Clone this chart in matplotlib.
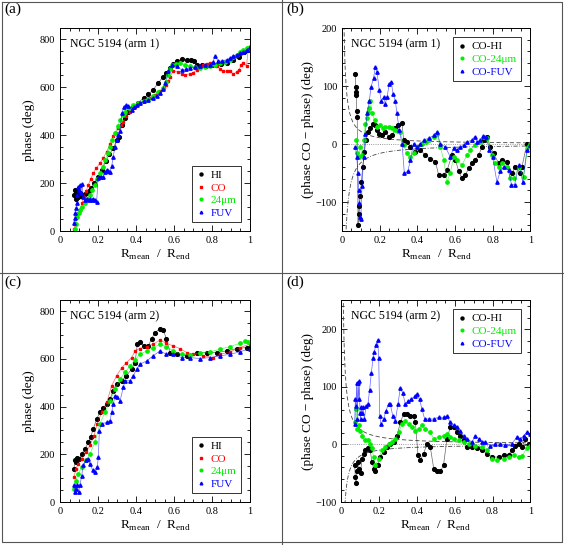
import numpy as np
import matplotlib.pyplot as plt
from matplotlib.lines import Line2D
from matplotlib.ticker import MultipleLocator

plt.rcParams['font.family'] = ['Liberation Serif', 'DejaVu Serif']
plt.rcParams['mathtext.fontset'] = 'custom'
plt.rcParams['mathtext.rm'] = 'Liberation Serif'

# ---- arm 1 : phase vs R ----
a1_hi_r = [0.074, 0.078, 0.084, 0.088, 0.091, 0.095, 0.100, 0.105, 0.112, 0.120, 0.130, 0.140, 0.150,
           0.165, 0.180, 0.200, 0.220, 0.240, 0.260, 0.280, 0.300, 0.310, 0.325, 0.340, 0.360, 0.386,
           0.410, 0.440, 0.465, 0.490, 0.515, 0.544, 0.560, 0.580, 0.597, 0.614, 0.640, 0.667, 0.690,
           0.705, 0.720, 0.745, 0.770, 0.800, 0.820, 0.850, 0.877, 0.910, 0.940, 0.970, 0.990]
a1_hi = [150, 170, 132, 165, 168, 140, 150, 157, 145, 150, 155, 160, 165,
         180, 200, 225, 255, 290, 320, 345, 380, 391, 442, 470, 495, 519,
         535, 554, 570, 588, 615, 644, 660, 679, 695, 707, 716, 714, 712,
         707, 693, 690, 689, 690, 693, 697, 700, 712, 725, 745, 755]

a1_co_r = [0.074, 0.080, 0.088, 0.096, 0.105, 0.115, 0.126, 0.138, 0.149, 0.162, 0.175, 0.190, 0.210,
           0.228, 0.246, 0.263, 0.280, 0.294, 0.307, 0.320, 0.333, 0.350, 0.368, 0.395, 0.420, 0.447,
           0.474, 0.500, 0.526, 0.545, 0.560, 0.570, 0.580, 0.596, 0.620, 0.640, 0.660, 0.684, 0.700,
           0.720, 0.737, 0.754, 0.772, 0.790, 0.808, 0.825, 0.843, 0.860, 0.878, 0.895, 0.912, 0.930,
           0.940, 0.955, 0.965, 0.982, 0.990, 1.000]
a1_co = [7, 30, 60, 75, 88, 115, 143, 168, 192, 218, 240, 262, 282,
         305, 331, 362, 394, 410, 428, 442, 456, 478, 498, 515, 533, 545,
         554, 568, 582, 595, 609, 625, 644, 669, 662, 655, 652, 655, 660,
         672, 683, 693, 697, 700, 695, 686, 676, 665, 667, 665, 655, 662,
         672, 690, 700, 689, 755, 755]

a1_24_r = [0.079, 0.085, 0.091, 0.098, 0.105, 0.118, 0.130, 0.144, 0.158, 0.171, 0.184, 0.197, 0.210,
           0.224, 0.237, 0.250, 0.263, 0.276, 0.290, 0.303, 0.316, 0.329, 0.342, 0.364, 0.386, 0.413,
           0.440, 0.465, 0.490, 0.517, 0.544, 0.557, 0.570, 0.580, 0.588, 0.610, 0.630, 0.657, 0.684,
           0.710, 0.737, 0.763, 0.790, 0.816, 0.842, 0.868, 0.895, 0.912, 0.930, 0.947, 0.965, 0.982,
           1.000]
a1_24 = [7, 30, 60, 75, 88, 100, 115, 132, 150, 170, 192, 215, 240,
         268, 296, 324, 352, 380, 408, 436, 463, 482, 498, 512, 526, 534,
         540, 550, 561, 578, 595, 620, 651, 675, 693, 697, 700, 693, 686,
         682, 679, 684, 689, 694, 700, 706, 714, 724, 735, 745, 755, 762,
         769]

a1_fuv_r = [0.074, 0.078, 0.081, 0.085, 0.088, 0.092, 0.096, 0.100, 0.105, 0.110, 0.115, 0.123, 0.132,
            0.140, 0.150, 0.160, 0.167, 0.175, 0.185, 0.193, 0.200, 0.214, 0.228, 0.237, 0.246, 0.255,
            0.263, 0.272, 0.280, 0.290, 0.298, 0.307, 0.316, 0.325, 0.337, 0.348, 0.360, 0.377, 0.390,
            0.404, 0.420, 0.440, 0.465, 0.490, 0.508, 0.526, 0.540, 0.553, 0.570, 0.588, 0.614, 0.640,
            0.662, 0.684, 0.710, 0.737, 0.763, 0.790, 0.805, 0.816, 0.833, 0.855, 0.877, 0.895, 0.912,
            0.930, 0.947, 0.965, 0.982, 1.000]
a1_fuv = [35, 55, 74, 95, 115, 150, 185, 170, 192, 160, 195, 140, 129,
          135, 129, 132, 129, 135, 128, 122, 220, 225, 227, 245, 255, 250,
          248, 270, 310, 352, 380, 400, 415, 491, 519, 525, 522, 505, 515,
          526, 535, 540, 546, 554, 563, 575, 590, 616, 665, 693, 686, 672,
          675, 679, 682, 686, 690, 693, 705, 730, 707, 710, 714, 720, 728,
          735, 742, 748, 755, 765]

# ---- arm 1 : CO minus phase ----
b1_hi_r = [0.071, 0.073, 0.074, 0.076, 0.078, 0.081, 0.085, 0.088, 0.092, 0.097, 0.103, 0.110, 0.119,
           0.127, 0.138, 0.150, 0.163, 0.177, 0.186, 0.195, 0.212, 0.230, 0.248, 0.265, 0.283, 0.300,
           0.319, 0.327, 0.345, 0.363, 0.390, 0.416, 0.442, 0.469, 0.496, 0.513, 0.540, 0.558, 0.584,
           0.602, 0.620, 0.637, 0.655, 0.673, 0.690, 0.708, 0.726, 0.743, 0.756, 0.770, 0.788, 0.805,
           0.832, 0.850, 0.876, 0.903, 0.920, 0.947, 0.956, 0.982, 1.000]
b1_hi = [121, 99, 84, 90, 58, 47, -139, -120, -107, -90, -65, -39, -13,
         7, 21, 27, 35, 33, 25, 18, 15, 21, 13, 15, 27, 33,
         37, 7, 4, -5, -13, -10, -19, -25, -30, -53, -53, -45, -19,
         -27, -47, -59, -53, -42, -33, -27, -19, -5, 7, 13, -5, -16,
         -33, -27, -30, -50, -39, -50, -39, 1, 0]

b1_24_r = [0.074, 0.081, 0.088, 0.097, 0.106, 0.115, 0.124, 0.133, 0.138, 0.145, 0.150, 0.160, 0.173,
           0.186, 0.204, 0.217, 0.230, 0.248, 0.265, 0.283, 0.296, 0.310, 0.327, 0.345, 0.363, 0.380,
           0.398, 0.425, 0.445, 0.460, 0.487, 0.504, 0.522, 0.540, 0.558, 0.575, 0.593, 0.610, 0.637,
           0.664, 0.681, 0.708, 0.735, 0.752, 0.770, 0.796, 0.814, 0.832, 0.850, 0.876, 0.894, 0.912,
           0.938, 0.965, 0.986, 1.000]
b1_24 = [7, -16, -22, -5, -19, 7, 35, 45, 55, 62, 75, 53, 41,
         30, 33, 28, 30, 30, 27, 24, 22, 21, -2, -16, -22, -16,
         -5, 1, 4, 7, 13, 18, -5, -27, -65, -50, -22, -27, -36,
         -19, -10, -2, 4, 13, 10, -19, -33, -39, -33, -39, -59, -59,
         -39, -56, -5, 1]

b1_fuv_r = [0.071, 0.078, 0.085, 0.088, 0.092, 0.096, 0.100, 0.106, 0.115, 0.124, 0.133, 0.145, 0.154,
            0.168, 0.177, 0.186, 0.198, 0.209, 0.221, 0.230, 0.239, 0.251, 0.262, 0.271, 0.283, 0.292,
            0.304, 0.319, 0.331, 0.350, 0.363, 0.380, 0.398, 0.416, 0.434, 0.460, 0.487, 0.504, 0.522,
            0.549, 0.575, 0.593, 0.610, 0.628, 0.646, 0.664, 0.690, 0.704, 0.717, 0.735, 0.749, 0.765,
            0.782, 0.800, 0.823, 0.840, 0.858, 0.885, 0.900, 0.917, 0.938, 0.960, 0.982, 1.000]
b1_fuv = [-5, -22, -50, -79, -102, -125, -130, -73, -22, 18, 53, 75, 98,
          115, 133, 124, 93, 75, 81, 70, 81, 104, 107, 87, 75, 53,
          24, 1, -50, -47, -27, 1, -5, 1, 7, 10, 15, 21, 1,
          -5, -22, -7, -10, -5, -2, 4, 7, 13, 4, 7, 14, 13,
          -10, -22, -66, -47, -39, -45, -70, -70, -36, -65, -10, -2]

# ---- arm 2 : phase vs R ----
c2_hi_r = [0.074, 0.077, 0.084, 0.091, 0.102, 0.114, 0.132, 0.149, 0.161, 0.175, 0.193, 0.210, 0.228,
           0.246, 0.263, 0.280, 0.298, 0.325, 0.350, 0.377, 0.395, 0.407, 0.420, 0.440, 0.465, 0.482,
           0.500, 0.526, 0.544, 0.560, 0.580, 0.614, 0.667, 0.720, 0.772, 0.825, 0.877, 0.930, 0.982,
           1.000]
c2_hi = [139, 174, 167, 184, 181, 202, 223, 250, 271, 306, 348, 376, 392,
         410, 431, 466, 494, 508, 529, 557, 584, 661, 671, 654, 654, 684,
         710, 726, 721, 682, 626, 619, 612, 623, 626, 626, 633, 643, 647,
         647]

c2_co_r = [0.074, 0.084, 0.096, 0.114, 0.137, 0.158, 0.179, 0.196, 0.219, 0.246, 0.272, 0.298, 0.325,
           0.350, 0.377, 0.395, 0.420, 0.456, 0.490, 0.526, 0.560, 0.596, 0.630, 0.667, 0.702, 0.754,
           0.807, 0.842, 0.895, 0.947, 1.000]
c2_co = [104, 139, 160, 181, 209, 237, 278, 327, 376, 417, 487, 529, 563,
         584, 605, 633, 643, 651, 661, 678, 665, 654, 643, 626, 619, 612,
         605, 619, 629, 647, 661]

c2_24_r = [0.074, 0.084, 0.096, 0.114, 0.137, 0.158, 0.184, 0.210, 0.237, 0.263, 0.290, 0.316, 0.342,
           0.368, 0.395, 0.420, 0.456, 0.490, 0.526, 0.560, 0.596, 0.640, 0.684, 0.737, 0.790, 0.842,
           0.895, 0.947, 0.974, 0.991]
c2_24 = [56, 90, 118, 146, 174, 202, 250, 327, 376, 424, 473, 515, 543,
         570, 595, 619, 633, 647, 661, 651, 633, 619, 615, 626, 629, 640,
         651, 665, 675, 671]

c2_fuv_r = [0.074, 0.079, 0.084, 0.091, 0.098, 0.105, 0.114, 0.123, 0.137, 0.146, 0.158, 0.172, 0.184,
            0.196, 0.202, 0.207, 0.219, 0.246, 0.263, 0.272, 0.280, 0.290, 0.302, 0.316, 0.333, 0.342,
            0.368, 0.386, 0.404, 0.420, 0.456, 0.490, 0.526, 0.560, 0.596, 0.640, 0.684, 0.737, 0.790,
            0.842, 0.895, 0.947, 1.000]
c2_fuv = [72, 42, 56, 70, 42, 70, 111, 153, 174, 181, 160, 132, 125,
          146, 188, 299, 327, 334, 341, 376, 410, 445, 438, 424, 480, 508,
          508, 529, 557, 577, 591, 612, 633, 619, 619, 605, 605, 601, 605,
          612, 619, 629, 643]

# ---- arm 2 : CO minus phase ----
d2_hi_r = [0.071, 0.074, 0.078, 0.083, 0.088, 0.095, 0.102, 0.109, 0.118, 0.127, 0.141, 0.153, 0.162,
           0.171, 0.180, 0.194, 0.206, 0.224, 0.242, 0.259, 0.277, 0.295, 0.312, 0.330, 0.347, 0.365,
           0.383, 0.392, 0.406, 0.418, 0.436, 0.453, 0.471, 0.489, 0.506, 0.524, 0.541, 0.559, 0.577,
           0.594, 0.612, 0.630, 0.647, 0.665, 0.691, 0.718, 0.744, 0.771, 0.797, 0.832, 0.859, 0.885,
           0.903, 0.920, 0.938, 0.956, 0.974, 0.991]
d2_hi = [-36, -56, -67, -47, -30, -42, -50, -25, -16, -10, -7, -10, -30,
         -42, -46, -36, -22, -13, -5, 1, 4, 15, 38, 53, 53, 50,
         50, 38, -19, -27, -16, 1, -5, -42, -47, -47, -36, 10, 30,
         30, 21, 15, 7, -5, -5, -7, -10, -16, -22, -22, -19, -18,
         -10, -2, 1, -5, 10, 1]

d2_24_r = [0.071, 0.078, 0.083, 0.092, 0.100, 0.109, 0.123, 0.141, 0.153, 0.162, 0.171, 0.180, 0.198,
           0.215, 0.233, 0.250, 0.268, 0.286, 0.303, 0.321, 0.339, 0.356, 0.374, 0.392, 0.409, 0.427,
           0.444, 0.471, 0.489, 0.515, 0.541, 0.559, 0.577, 0.594, 0.621, 0.647, 0.674, 0.709, 0.744,
           0.771, 0.797, 0.824, 0.859, 0.885, 0.912, 0.938, 0.956, 0.982, 1.000]
d2_24 = [38, 61, 27, 33, 24, 15, 7, 7, 1, -7, -22, -36, -25,
         -10, -5, 1, 4, 10, 21, 35, 41, 35, 30, 24, 27, 33,
         27, 21, 10, 13, 15, 18, 13, 10, 7, 4, 1, -2, -5,
         -10, -25, -27, -25, -22, -19, -22, -20, -7, -2]

d2_fuv_r = [0.071, 0.074, 0.078, 0.081, 0.085, 0.088, 0.092, 0.095, 0.099, 0.102, 0.106, 0.109, 0.116,
            0.122, 0.131, 0.141, 0.150, 0.159, 0.168, 0.175, 0.183, 0.192, 0.198, 0.203, 0.210, 0.224,
            0.236, 0.250, 0.259, 0.272, 0.286, 0.300, 0.312, 0.324, 0.339, 0.353, 0.370, 0.388, 0.400,
            0.414, 0.427, 0.441, 0.462, 0.489, 0.515, 0.541, 0.559, 0.577, 0.594, 0.612, 0.630, 0.647,
            0.665, 0.691, 0.709, 0.727, 0.744, 0.762, 0.788, 0.815, 0.841, 0.868, 0.903, 0.929, 0.947,
            0.965, 0.982, 1.000]
d2_fuv = [35, 78, 67, 107, 44, 107, 78, 110, 55, 44, 64, 55, 64,
          44, 67, 70, 95, 124, 150, 161, 173, 181, 150, 50, 35, 44,
          58, 70, 70, 50, 41, 70, 98, 90, 70, 75, 78, 84, 87,
          78, 61, 44, 44, 44, 47, 47, 49, 38, 33, 30, 24, 15,
          10, 4, 15, 10, 4, 4, -2, 1, 1, -1, 1, 13, 10,
          15, 21, 18]

W, H = 564, 545
fig = plt.figure(figsize=(W / 100, H / 100), dpi=100)


def make_ax(x0, x1, y0, y1):
    return fig.add_axes([x0 / W, 1 - y1 / H, (x1 - x0) / W, (y1 - y0) / H])


def style(ax, ymin, ymax, ymaj, ymin_step):
    ax.set_xlim(0, 1)
    ax.set_ylim(ymin, ymax)
    ax.xaxis.set_minor_locator(MultipleLocator(0.05))
    ax.yaxis.set_major_locator(MultipleLocator(ymaj))
    ax.yaxis.set_minor_locator(MultipleLocator(ymin_step))
    ax.set_xticks([0, 0.2, 0.4, 0.6, 0.8, 1])
    ax.set_xticklabels(['0', '0.2', '0.4', '0.6', '0.8', '1'])
    ax.tick_params(which='both', direction='in', top=True, right=True, labelsize=7.5, width=0.6)
    ax.tick_params(which='major', length=4)
    ax.tick_params(which='minor', length=2)
    for s in ax.spines.values():
        s.set_linewidth(0.7)
    ax.set_xlabel(r'R$_{\rm mean}$  /  R$_{\rm end}$', fontsize=9.5, labelpad=2)


def series(ax, x, y, color, marker, ms, lab):
    ax.plot(x, y, '-', color=color, lw=0.5, alpha=0.6)
    ax.plot(x, y, linestyle='none', marker=marker, color=color, ms=ms, mec=color)
    return Line2D([], [], linestyle='none', marker=marker, color=color, ms=ms * 0.8, label=lab)


def guides(ax, cup, clo):
    rr = np.linspace(0.004, 1, 400)
    ax.plot(rr, cup / rr, '--', color='#444444', lw=0.6, dashes=(5, 3))
    ax.plot(rr, -clo / rr, '--', color='#444444', lw=0.6, dashes=(5, 2, 1, 2))
    ax.axhline(0, color='#777777', lw=0.6, ls=':')


def legend(ax, handles, loc):
    leg = ax.legend(handles=handles, loc=loc, fontsize=8, frameon=True, fancybox=False,
                    edgecolor='black', handlelength=0.8, handletextpad=0.5, labelspacing=0.25,
                    borderpad=0.4, borderaxespad=0.8, labelcolor='markerfacecolor')
    leg.get_frame().set_linewidth(0.7)


# (a)
ax = make_ax(60, 250, 28.3, 231)
h = [series(ax, a1_hi_r, a1_hi, 'black', 'o', 2.7, 'HI'),
     series(ax, a1_co_r, a1_co, 'red', 's', 2.0, 'CO'),
     series(ax, a1_24_r, a1_24, '#00ee00', 'o', 2.4, '24μm'),
     series(ax, a1_fuv_r, a1_fuv, 'blue', '^', 2.4, 'FUV')]
style(ax, 0, 845, 200, 50)
ax.set_ylabel('phase (deg)', fontsize=9.5, labelpad=3)
ax.text(0.05, 0.95, 'NGC 5194 (arm 1)', transform=ax.transAxes, va='top', fontsize=8.5)
legend(ax, h, 'lower right')

# (b)
ax = make_ax(342, 530.3, 28.3, 231)
guides(ax, 2.2, 3.2)
h = [series(ax, b1_hi_r, b1_hi, 'black', 'o', 2.7, 'CO-HI'),
     series(ax, b1_24_r, b1_24, '#00ee00', 'o', 2.4, 'CO-24μm'),
     series(ax, b1_fuv_r, b1_fuv, 'blue', '^', 2.4, 'CO-FUV')]
style(ax, -150, 200, 100, 20)
ax.set_ylabel('(phase CO − phase) (deg)', fontsize=9.5, labelpad=1)
ax.text(0.05, 0.95, 'NGC 5194 (arm 1)', transform=ax.transAxes, va='top', fontsize=8.5)
legend(ax, h, 'upper right')

# (c)
ax = make_ax(60, 250, 300.3, 502)
h = [series(ax, c2_hi_r, c2_hi, 'black', 'o', 2.7, 'HI'),
     series(ax, c2_co_r, c2_co, 'red', 's', 2.0, 'CO'),
     series(ax, c2_24_r, c2_24, '#00ee00', 'o', 2.4, '24μm'),
     series(ax, c2_fuv_r, c2_fuv, 'blue', '^', 2.4, 'FUV')]
style(ax, 0, 845, 200, 50)
ax.set_ylabel('phase (deg)', fontsize=9.5, labelpad=3)
ax.text(0.05, 0.95, 'NGC 5194 (arm 2)', transform=ax.transAxes, va='top', fontsize=8.5)
legend(ax, h, 'lower right')

# (d)
ax = make_ax(341.3, 530.3, 300.3, 502)
guides(ax, 2.6, 2.0)
h = [series(ax, d2_hi_r, d2_hi, 'black', 'o', 2.7, 'CO-HI'),
     series(ax, d2_24_r, d2_24, '#00ee00', 'o', 2.4, 'CO-24μm'),
     series(ax, d2_fuv_r, d2_fuv, 'blue', '^', 2.4, 'CO-FUV')]
style(ax, -100, 250, 100, 20)
ax.set_ylabel('(phase CO − phase) (deg)', fontsize=9.5, labelpad=1)
ax.text(0.05, 0.95, 'NGC 5194 (arm 2)', transform=ax.transAxes, va='top', fontsize=8.5)
legend(ax, h, 'upper right')

# panel frames and letters
for xs, ys in [([1.5, 561.5, 561.5, 1.5, 1.5], [1.5, 1.5, 541.5, 541.5, 1.5]),
               ([281.5, 281.5], [0, 545]), ([0, 564], [272.5, 272.5])]:
    fig.add_artist(Line2D([x / W for x in xs], [1 - y / H for y in ys], color='#555555', lw=0.8))
for lab, px, py in [('(a)', 4, 3), ('(b)', 286, 3), ('(c)', 4, 276), ('(d)', 286, 276)]:
    fig.text(px / W, 1 - py / H, lab, fontsize=11, va='top', ha='left')

fig.savefig('out.png', dpi=100)
